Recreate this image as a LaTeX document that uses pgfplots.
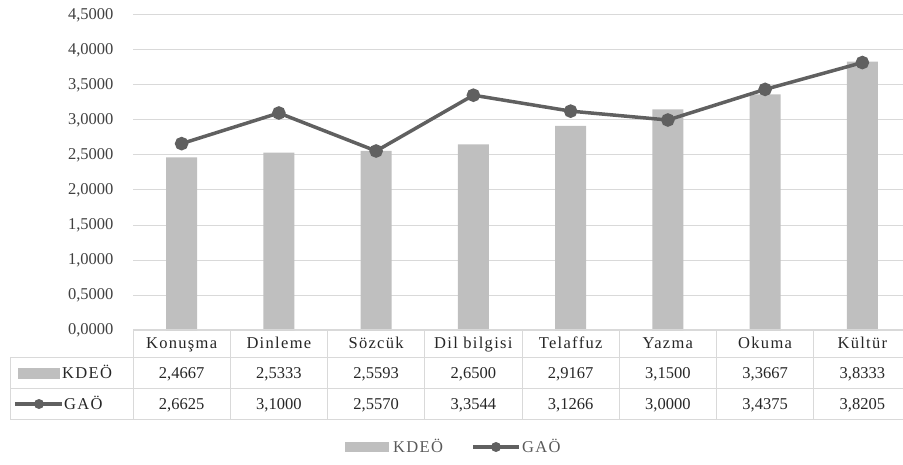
\documentclass[border=0pt]{standalone}
\usepackage{pgfplots}
\pgfplotsset{compat=1.18}
\usepackage{fontspec}
\setmainfont{Liberation Serif}
\newfontfamily\spf[LetterSpace=8]{Liberation Serif}
\definecolor{barc}{HTML}{BFBFBF}
\definecolor{linec}{HTML}{606060}
\definecolor{gridc}{HTML}{D9D9D9}
\definecolor{tickc}{HTML}{404040}
\definecolor{tabc}{HTML}{262626}
\definecolor{legc}{HTML}{595959}
\begin{document}
\begin{tikzpicture}[x=1pt,y=1pt]
\path[use as bounding box, clip] (0,0) rectangle (903,464);
\begin{axis}[
  at={(133pt,134pt)}, anchor=south west, scale only axis,
  width=778pt, height=315pt,
  xmin=-0.5, xmax=7.5, ymin=0, ymax=4.5,
  axis line style={draw=none},
  major tick length=0pt,
  xtick=\empty,
  ytick={0,0.5,...,4.5},
  ymajorgrids, grid style={gridc, line width=1pt},
  yticklabel style={font=\fontsize{16.5}{18}\selectfont, text=tickc, xshift=-16pt},
  /pgf/number format/.cd, fixed, fixed zerofill, precision=4, use comma, assume math mode=true,
  /pgfplots/.cd,
  clip=false,
]
\addplot[ybar, bar width=31pt, fill=barc, draw=none] coordinates {
(0,2.4667) (1,2.5333) (2,2.5593) (3,2.6500) (4,2.9167) (5,3.1500) (6,3.3667) (7,3.8333)};
\addplot[linec, line width=3.5pt, mark=*, mark size=5pt, mark options={fill=linec, draw=linec}] coordinates {
(0,2.6625) (1,3.1000) (2,2.5570) (3,3.3544) (4,3.1266) (5,3.0000) (6,3.4375) (7,3.8205)};
\end{axis}
% table grid
\begin{scope}[draw=gridc, line width=1pt]
\draw (133,134) -- (911,134);
\draw (10,106) -- (911,106);
\draw (10,75) -- (911,75);
\draw (10,45) -- (911,45);
\draw (10,106) -- (10,45);
\foreach \k in {0,...,8} {\draw ({133+97.25*\k},134) -- ({133+97.25*\k},45);}
\end{scope}
\begin{scope}[font=\fontsize{16.5}{18}\selectfont, text=tabc]
\foreach \n [count=\k from 0] in {Konuşma,Dinleme,Sözcük,Dil bilgisi,Telaffuz,Yazma,Okuma,Kültür}
  {\node[anchor=base] at ({133+97.25*(\k+0.5)},115) {\spf\n};}
\foreach \n [count=\k from 0] in {2{,}4667,2{,}5333,2{,}5593,2{,}6500,2{,}9167,3{,}1500,3{,}3667,3{,}8333}
  {\node[anchor=base] at ({133+97.25*(\k+0.5)},85) {\n};}
\foreach \n [count=\k from 0] in {2{,}6625,3{,}1000,2{,}5570,3{,}3544,3{,}1266,3{,}0000,3{,}4375,3{,}8205}
  {\node[anchor=base] at ({133+97.25*(\k+0.5)},54.5) {\n};}
\fill[barc] (18,85) rectangle (60,96);
\node[anchor=base west, inner sep=0] at (62,85) {\spf KDEÖ};
\draw[linec, line width=3.5pt] (15,60) -- (62,60);
\fill[linec] (39,60) circle (5);
\node[anchor=base west, inner sep=0] at (64,54.5) {\spf GAÖ};
\end{scope}
% legend
\begin{scope}[font=\fontsize{16.5}{18}\selectfont, text=legc]
\fill[barc] (345,12) rectangle (389,22);
\node[anchor=base west, inner sep=0] at (393,11.5) {\spf KDEÖ};
\draw[linec, line width=3.5pt] (473,17) -- (519,17);
\fill[linec] (496,17) circle (5);
\node[anchor=base west, inner sep=0] at (522,11.5) {\spf GAÖ};
\end{scope}
\end{tikzpicture}
\end{document}
